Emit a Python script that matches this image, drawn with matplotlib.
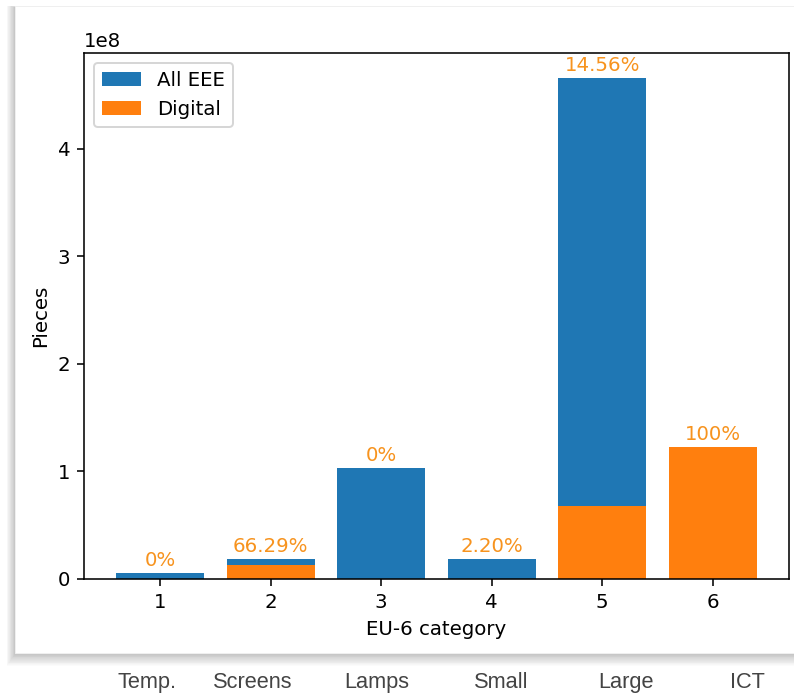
import matplotlib
matplotlib.use('Agg')
import matplotlib.pyplot as plt
from matplotlib.patches import Rectangle
import numpy as np

# EU-6 categories, pieces put on market and share that is digital
categories = [1, 2, 3, 4, 5, 6]
category_names = ['Temp.', 'Screens', 'Lamps', 'Small', 'Large', 'ICT']
all_eee = [0.058e8, 0.19e8, 1.035e8, 0.19e8, 4.66e8, 1.23e8]
digital_share = [0, 66.29, 0, 2.20, 14.56, 100]

all_eee = np.array(all_eee)
digital = all_eee * np.array(digital_share) / 100


def share_label(s):
    if s == int(s):
        return '{:.0f}%'.format(s)
    return '{:.2f}%'.format(s)


W, H, DPI = 794, 693, 142
fig = plt.figure(figsize=(W / DPI, H / DPI), dpi=DPI)
fig.patch.set_facecolor('white')

# background layer in pixel coords: card with soft shadow, names underneath
bg = fig.add_axes([0, 0, 1, 1], zorder=-1)
bg.set_xlim(0, W)
bg.set_ylim(H, 0)
bg.axis('off')

card_x0, card_y0, card_y1 = 15, 6, 653
for i in range(14, 0, -1):
    bg.add_patch(Rectangle((card_x0 - i * 0.6, card_y0 - i * 0.1 + 1),
                           W + 50, card_y1 - card_y0 + i * 0.95,
                           facecolor='black', edgecolor='none', alpha=0.016))
bg.add_patch(Rectangle((card_x0, card_y0), W + 50, card_y1 - card_y0,
                       facecolor='white', edgecolor='#f0f0f0', linewidth=0.5))

# names sit under the card, spaced by hand
name_x = [147, 253, 377, 501, 626, 747]
for x, name in zip(name_x, category_names):
    bg.text(x, 688, name, ha='center', va='baseline',
            fontsize=11, color='#444444', family='Liberation Sans')

ax = fig.add_axes([84 / W, 1 - 579 / H, 705 / W, 526 / H])
ax.bar(categories, all_eee, label='All EEE', color='#1f77b4')
ax.bar(categories, digital, label='Digital', color='#ff7f0e')

for x, total, s in zip(categories, all_eee, digital_share):
    ax.annotate(share_label(s), (x, total), xytext=(0, 1.5),
                textcoords='offset points', ha='center', va='bottom',
                color='#f7931e')

ax.set_xlabel('EU-6 category')
ax.set_ylabel('Pieces')
ax.legend(loc='upper left')

fig.savefig('out.png', dpi=DPI)
